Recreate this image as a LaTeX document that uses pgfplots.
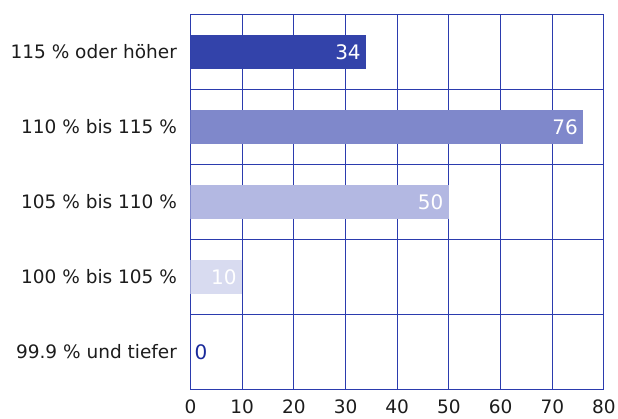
\documentclass[border=0pt]{standalone}
\usepackage{fontspec}
\setmainfont{DejaVu Sans}
\usepackage{pgfplots}
\pgfplotsset{compat=1.18}
\definecolor{gridc}{HTML}{2B3BAE}
\definecolor{barA}{HTML}{3343AA}
\definecolor{barB}{HTML}{7F88CB}
\definecolor{barC}{HTML}{B3B8E2}
\definecolor{barD}{HTML}{D8DBF0}
\definecolor{lblblue}{HTML}{1A2A9A}
\definecolor{txt}{HTML}{1C1C1C}
\begin{document}
\begin{tikzpicture}
\begin{axis}[
  at={(0,0)}, anchor=south west,
  scale only axis, width=413.5pt, height=375pt,
  xmin=0, xmax=80, ymin=-0.5, ymax=4.5, y dir=reverse,
  xtick={0,10,...,80},
  ytick={0,1,2,3,4},
  yticklabels={115 \% oder höher, 110 \% bis 115 \%, 105 \% bis 110 \%, 100 \% bis 105 \%, 99.9 \% und tiefer},
  minor ytick={0.5,1.5,2.5,3.5},
  xmajorgrids, yminorgrids, ymajorgrids=false,
  grid style={gridc, line width=1pt},
  minor grid style={gridc, line width=1pt},
  axis line style={gridc, line width=1pt},
  major tick length=0pt, minor tick length=0pt,
  tick label style={font=\fontsize{18.5}{20}\selectfont, text=txt},
  yticklabel style={xshift=-10pt},
  xticklabel style={yshift=-6.5pt},
  /pgf/number format/assume math mode=true,
  xbar, bar width=34pt, bar shift=0pt,
  nodes near coords,
  nodes near coords style={anchor=east, text=white, font=\fontsize{20}{22}\selectfont, xshift=-2pt},
]
\addplot[fill=barA, draw=none] coordinates {(34,0)};
\addplot[fill=barB, draw=none] coordinates {(76,1)};
\addplot[fill=barC, draw=none] coordinates {(50,2)};
\addplot[fill=barD, draw=none] coordinates {(10,3)};
\addplot[fill=barD, draw=none, nodes near coords style={anchor=west, text=lblblue, xshift=2.5pt}] coordinates {(0,4)};
\end{axis}
\pgfresetboundingbox
\path[use as bounding box] (-190.5pt,-28.5pt) rectangle (427.5pt,389.5pt);
\end{tikzpicture}
\end{document}
